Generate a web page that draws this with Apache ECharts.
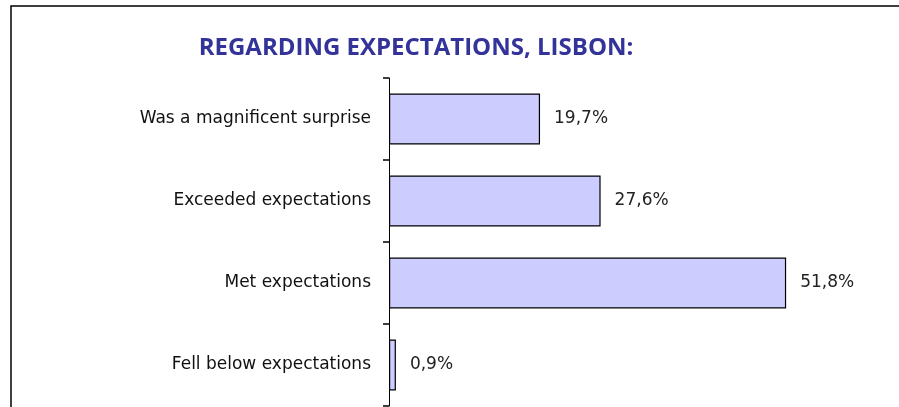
<!DOCTYPE html>
<html>
<head>
<meta charset="utf-8">
<script src="https://cdn.jsdelivr.net/npm/echarts@6/dist/echarts.min.js"></script>
<style>
html, body { margin: 0; padding: 0; background: #fff; }
#chart { width: 899px; height: 407px; }
</style>
</head>
<body>
<div id="chart"></div>
<script>
// categories, top to bottom
const categories = ['Was a magnificent surprise', 'Exceeded expectations', 'Met expectations', 'Fell below expectations']
// percentages
const values = [19.7, 27.6, 51.8, 0.9]

const chart = echarts.init(document.getElementById('chart'))
chart.setOption({
  animation: false,
  title: {
    text: 'REGARDING EXPECTATIONS, LISBON:',
    left: 411,
    textAlign: 'center',
    top: 31,
    textStyle: { color: '#333399', fontFamily: 'Open Sans', fontWeight: 'bold', fontSize: 24 }
  },
  graphic: [{
    type: 'rect',
    shape: { x: 11, y: 6, width: 900, height: 420 },
    style: { fill: 'none', stroke: '#000', lineWidth: 1.5 },
    silent: true
  }],
  grid: { left: 389, right: 50, top: 78, bottom: 1, containLabel: false },
  xAxis: {
    type: 'value',
    min: 0,
    max: 60,
    show: false
  },
  yAxis: {
    type: 'category',
    data: categories,
    inverse: true,
    axisLine: { show: true, lineStyle: { color: '#000', width: 1 } },
    axisTick: { show: true, length: 6, lineStyle: { color: '#000', width: 1.5 } },
    axisLabel: { color: '#111', fontFamily: 'DejaVu Sans', fontSize: 17, margin: 18 }
  },
  series: [{
    type: 'bar',
    data: values,
    barWidth: 51,
    itemStyle: { color: '#ccccff', borderColor: '#000', borderWidth: 1.2 },
    label: {
      show: true,
      position: 'right',
      distance: 14,
      color: '#222',
      fontFamily: 'DejaVu Sans',
      fontSize: 17,
      formatter: p => String(p.value).replace('.', ',') + '%'
    }
  }]
})
</script>
</body>
</html>
